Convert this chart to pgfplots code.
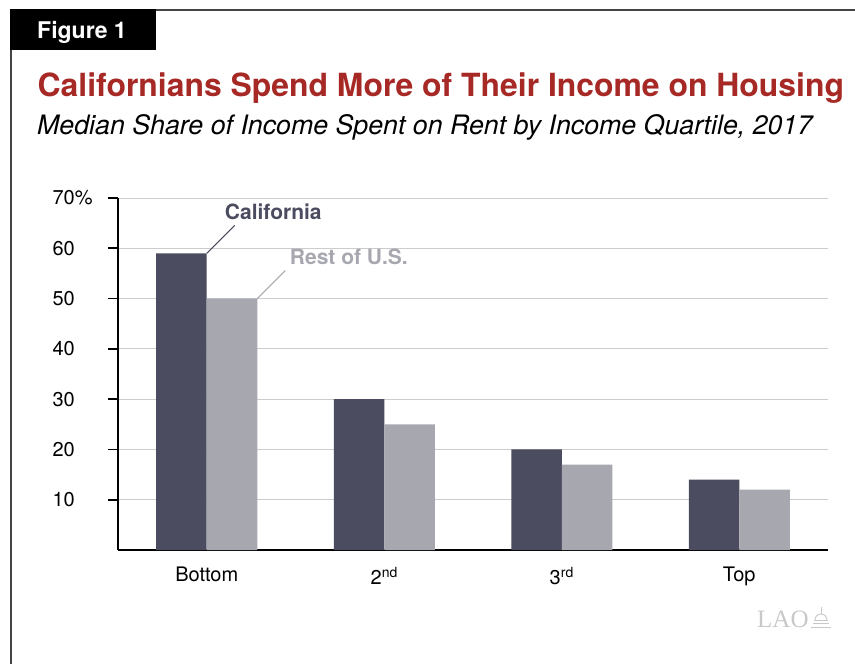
\documentclass[border=0pt]{standalone}
\usepackage{pgfplots}
\pgfplotsset{compat=1.18}
\usepackage{fontspec}
\setmainfont{TeX Gyre Heros}
\newfontfamily\seriffont{Liberation Serif}
\definecolor{cadark}{RGB}{75,76,96}
\definecolor{usgray}{RGB}{167,167,176}
\definecolor{titlered}{RGB}{166,41,38}
\definecolor{gridgray}{RGB}{204,204,204}
\definecolor{framegray}{RGB}{68,68,68}
\definecolor{logogray}{RGB}{200,200,200}
\begin{document}
\begin{tikzpicture}
\path[use as bounding box] (0,0) rectangle (855pt,-664pt);
\draw[framegray, line width=2pt] (11pt,-664pt) -- (11pt,-10pt) -- (855pt,-10pt);
\fill[black] (10pt,-9pt) rectangle (156pt,-50pt);
\node[anchor=base west, inner sep=0, text=white, font=\fontsize{23}{27}\selectfont\bfseries] at (37pt,-38pt) {Figure 1};
\node[anchor=base west, inner sep=0, text=titlered, font=\fontsize{31.9}{36}\selectfont\bfseries] at (37.5pt,-96pt) {Californians Spend More of Their Income on Housing};
\node[anchor=base west, inner sep=0, font=\fontsize{26.75}{30}\selectfont\itshape] at (37pt,-134pt) {Median Share of Income Spent on Rent by Income Quartile, 2017};
\begin{axis}[
  at={(118pt,-550pt)}, anchor=south west,
  width=710pt, height=352pt, scale only axis,
  xmin=-0.5, xmax=3.5, ymin=0, ymax=70,
  axis x line*=bottom, axis y line*=left,
  axis line style={line width=1.6pt, black, -},
  ytick={10,20,...,70},
  yticklabels={10,20,30,40,50,60,70\rlap{\%}},
  xtick={0,1,2,3},
  xticklabels={Bottom,2\textsuperscript{nd},3\textsuperscript{rd},Top},
  x tick style={draw=none},
  y tick style={line width=1.6pt, black},
  major tick length=10pt, tick align=outside,
  ymajorgrids, grid style={gridgray, line width=0.8pt},
  /pgf/number format/assume math mode=true,
  tick label style={font=\fontsize{20}{24}\selectfont},
  yticklabel style={anchor=east, inner sep=0pt, xshift=-33pt},
  xticklabel style={anchor=north, inner sep=0pt, yshift=-7pt},
  ybar, bar width=50.5pt,
  clip=false,
]
\addplot[fill=cadark, draw=none, bar shift=-25.25pt] coordinates {(0,59) (1,30) (2,20) (3,14)};
\addplot[fill=usgray, draw=none, bar shift=25.25pt] coordinates {(0,50) (1,25) (2,17) (3,12)};
\draw[cadark, line width=1pt] (axis cs:0,59) -- ++(28pt,28pt);
\draw[usgray, line width=1pt] ([xshift=50.5pt]axis cs:0,50) -- ++(28pt,28pt);
\node[anchor=base west, inner sep=0, text=cadark, font=\fontsize{21}{25}\selectfont\bfseries] at ([xshift=18pt,yshift=34pt]axis cs:0,59) {California};
\node[anchor=base west, inner sep=0, text=usgray, font=\fontsize{21}{25}\selectfont\bfseries] at ([xshift=83pt,yshift=34.5pt]axis cs:0,50) {Rest of U.S.};
\end{axis}
\node[anchor=base west, inner sep=0, text=logogray, font=\fontsize{25}{30}\selectfont\seriffont] at (757pt,-627pt) {LAO};
\begin{scope}[logogray, line width=0.9pt]
 \draw (811pt,-627pt) -- (831pt,-627pt);
 \draw (813pt,-623.5pt) -- (829pt,-623.5pt);
 \draw (814pt,-620pt) -- (828pt,-620pt);
 \draw (815pt,-620pt) arc (180:0:6pt);
 \draw (821pt,-614pt) -- (821pt,-607pt);
\end{scope}
\end{tikzpicture}
\end{document}
